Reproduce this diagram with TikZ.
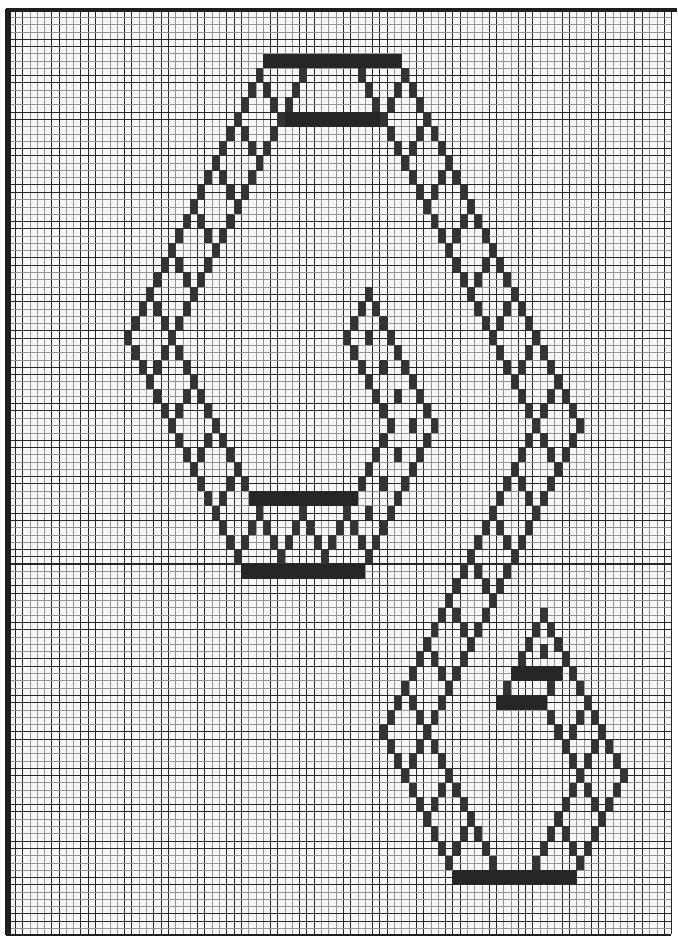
\documentclass[tikz,border=0pt]{standalone}
\usetikzlibrary{calc}
\tikzset{
  stitch/.style={fill=black!80,draw=none},
  thickbar/.style={fill=black!85,draw=none},
  gridfine/.style={draw=black!42,line width=0.6pt},
  gridbold/.style={draw=black!85,line width=0.95pt},
  frameline/.style={draw=black!88}
}
\newcommand{\chainrun}[4]{% col row dcol count
  \pgfmathtruncatemacro{\chainlast}{#4-1}
  \foreach \ii in {0,...,\chainlast}{
    \pgfmathsetmacro{\cc}{#1+\ii*(#3)}
    \pgfmathsetmacro{\rr}{#2+2*\ii}
    \fill[stitch] (\cc-0.04,\rr-0.02) rectangle (\cc+1.04,\rr+2.02);
  }}
\newcommand{\onedot}[2]{\chainrun{#1}{#2}{0}{1}}
\newcommand{\solidbar}[3]{\fill[thickbar] (#1,#3) rectangle (#2+1,#3+2);}
\begin{document}
\begin{tikzpicture}[x=7.29pt,y=-7.29pt]
\useasboundingbox (-1.0974,-1.3717) rectangle (91.77,127.16);
\fill[black!3] (0,0) rectangle (91,126.7);
% fine grid
\foreach \k in {0,...,91}{
  \pgfmathtruncatemacro{\m}{mod(\k,10)}
  \ifnum\m=0 \draw[gridbold] (\k,0)--(\k,126.7);
  \else\ifnum\m=1 \draw[gridbold] (\k,0)--(\k,126.7);
  \else\ifnum\m=2 \draw[gridbold] (\k,0)--(\k,126.7);
  \else\ifnum\m=6 \draw[gridbold] (\k,0)--(\k,126.7);
  \else\ifnum\m=7 \draw[gridbold] (\k,0)--(\k,126.7);
  \else \draw[gridfine] (\k,0)--(\k,126.7);
  \fi\fi\fi\fi\fi
}
\foreach \k in {0,...,126}{
  \pgfmathtruncatemacro{\m}{mod(\k,5)}
  \ifnum\m=0 \draw[gridbold] (0,\k)--(91,\k);
  \else\ifnum\m=4 \draw[gridbold] (0,\k)--(91,\k);
  \else \draw[gridfine] (0,\k)--(91,\k);
  \fi\fi
}
\draw[gridbold,line width=1.3pt] (0,76)--(91,76);
% frame
\draw[frameline,line width=5pt] (0,-0.1)--(0,126.9);
\draw[frameline,line width=3.5pt] (-0.3,0)--(91.8,0);
\draw[frameline,line width=2pt] (-0.3,126.9)--(91,126.9);
% bars
\solidbar{35}{53}{6}
\solidbar{37}{51}{14}
\solidbar{33}{47}{66}
\solidbar{32}{48}{76}
\solidbar{69}{75}{90}
\solidbar{67}{73}{94}
\solidbar{61}{77}{118}
% big shape
\chainrun{34}{8}{-1}{19}
\chainrun{16}{44}{1}{16}
\chainrun{36}{16}{-1}{15}
\chainrun{22}{44}{1}{11}
\chainrun{54}{8}{1}{25}
\chainrun{52}{16}{1}{21}
% long descending band
\chainrun{78}{56}{-1}{22}
\chainrun{72}{56}{-1}{22}
\chainrun{51}{98}{1}{10}
\chainrun{57}{98}{1}{10}
% small lower right shape
\chainrun{73}{82}{1}{12}
\chainrun{84}{104}{-1}{7}
\chainrun{74}{96}{1}{5}
\chainrun{78}{104}{-1}{7}
\chainrun{73}{82}{-1}{4}
\onedot{73}{87}
\onedot{68}{92}
\onedot{74}{92}
% middle shape
\chainrun{49}{38}{-1}{4}
\chainrun{46}{44}{1}{7}
\chainrun{49}{38}{1}{10}
\chainrun{58}{56}{-1}{10}
\chainrun{52}{56}{-1}{5}
\foreach \a/\b in {49/44,51/48,53/52,55/56,53/60,51/64,49/68}{\onedot{\a}{\b}}
% band lattices
\foreach \a/\b in {34/8,31/14,28/20,25/26,22/32,19/38,72/56,69/62,66/68,63/74,60/80,57/86,54/92,34/68,40/68,46/68,78/104,75/110,48/8}{\chainrun{\a}{\b}{1}{4}}
\foreach \a/\b in {40/8,54/8,57/14,60/20,63/26,66/32,69/38,72/44,75/50,22/44,25/50,28/56,31/62,34/68,40/68,46/68,57/98,60/104,63/110,79/94,81/98}{\chainrun{\a}{\b}{-1}{4}}
\end{tikzpicture}
\end{document}
